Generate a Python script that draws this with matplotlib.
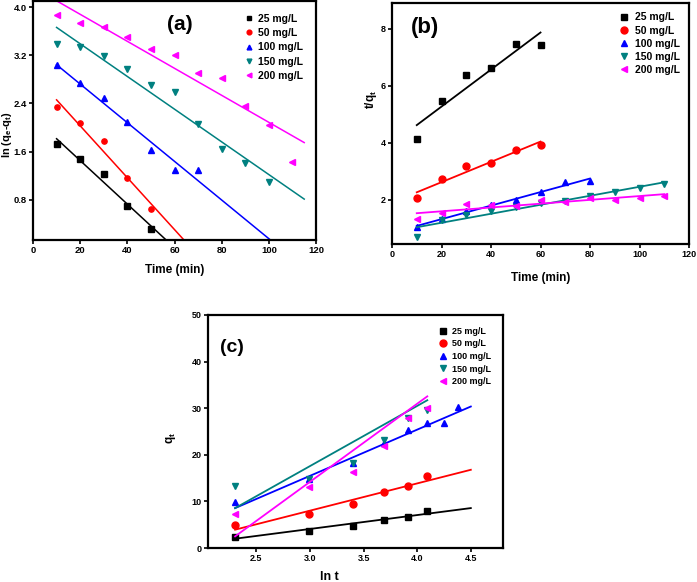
import numpy as np
import matplotlib
matplotlib.use("Agg")
import matplotlib.pyplot as plt

plt.rcParams["font.family"] = ["Liberation Sans", "DejaVu Sans"]
plt.rcParams["font.weight"] = "bold"
plt.rcParams["axes.labelweight"] = "bold"

labels = ["25 mg/L", "50 mg/L", "100 mg/L", "150 mg/L", "200 mg/L"]
colors = ["#000000", "#ff0000", "#0000ff", "#008080", "#ff00ff"]
markers = ["s", "o", "^", "v", "<"]

# (a) pseudo-first-order: ln(qe-qt) vs time
t_a = [
    [10, 20, 30, 40, 50],
    [10, 20, 30, 40, 50],
    [10, 20, 30, 40, 50, 60, 70],
    [10, 20, 30, 40, 50, 60, 70, 80, 90, 100],
    [10, 20, 30, 40, 50, 60, 70, 80, 90, 100, 110],
]
y_a = [
    [1.73, 1.48, 1.22, 0.70, 0.31],
    [2.34, 2.07, 1.77, 1.16, 0.64],
    [3.03, 2.74, 2.49, 2.09, 1.62, 1.29, 1.29],
    [3.39, 3.34, 3.19, 2.97, 2.71, 2.59, 2.06, 1.64, 1.41, 1.09],
    [3.86, 3.73, 3.66, 3.51, 3.30, 3.21, 2.90, 2.82, 2.35, 2.04, 1.42],
]

# (b) pseudo-second-order: t/qt vs time
t_b = [
    [10, 20, 30, 40, 50, 60],
    [10, 20, 30, 40, 50, 60],
    [10, 20, 30, 40, 50, 60, 70, 80],
    [10, 20, 30, 40, 50, 60, 70, 80, 90, 100, 110],
    [10, 20, 30, 40, 50, 60, 70, 80, 90, 100, 110],
]
y_b = [
    [4.12, 5.47, 6.37, 6.61, 7.45, 7.43],
    [2.06, 2.72, 3.19, 3.28, 3.74, 3.92],
    [1.04, 1.33, 1.60, 1.80, 2.01, 2.27, 2.62, 2.65],
    [0.70, 1.30, 1.48, 1.62, 1.74, 1.90, 1.97, 2.13, 2.27, 2.43, 2.54],
    [1.33, 1.54, 1.84, 1.81, 1.78, 1.99, 1.92, 2.07, 2.01, 2.06, 2.15],
]

# (c) intraparticle diffusion: qt vs ln t
t_c = [
    [10, 20, 30, 40, 50, 60],
    [10, 20, 30, 40, 50, 60],
    [10, 20, 30, 40, 50, 60, 70, 80],
    [10, 20, 30, 40, 50, 60],
    [10, 20, 30, 40, 50, 60],
]
y_c = [
    [2.4, 3.75, 4.65, 6.0, 6.65, 7.95],
    [4.86, 7.36, 9.43, 12.07, 13.36, 15.36],
    [9.8, 14.8, 18.3, 22.5, 25.4, 26.8, 26.8, 30.2],
    [13.2, 14.8, 18.3, 23.2, 28.0, 29.6],
    [7.2, 13.0, 16.3, 21.8, 27.9, 30.1],
]
# fitted lines of panel (c)
slope_c = [2.99, 5.85, 9.92, 12.92, 16.77]
icept_c = [-4.89, -9.54, -14.28, -21.19, -36.12]
xend_c = [4.5, 4.5, 4.5, np.log(60), np.log(60)]


def style_axes(ax, fs):
    for s in ax.spines.values():
        s.set_linewidth(1.6)
    ax.tick_params(direction="out", length=3, width=1.2, labelsize=fs, pad=1.5)
    for lab in ax.get_xticklabels() + ax.get_yticklabels():
        lab.set_fontweight("bold")


fig = plt.figure(figsize=(6.97, 5.82), dpi=100)
ax_a = fig.add_axes([33 / 697, 1 - 240 / 582, 283 / 697, 239 / 582])
ax_b = fig.add_axes([392 / 697, 1 - 244 / 582, 297 / 697, 241 / 582])
ax_c = fig.add_axes([208 / 697, 1 - 548 / 582, 295 / 697, 233 / 582])

# panel (a)
for i in range(5):
    x = np.array(t_a[i])
    y = np.array(y_a[i])
    ax_a.plot(x, y, linestyle="none", marker=markers[i], color=colors[i], ms=3.8, label=labels[i])
    m, b = np.polyfit(x, y, 1)
    xx = np.array([10, 115])
    ax_a.plot(xx, m * xx + b, color=colors[i], lw=1.1)
ax_a.set_xlim(0, 120)
ax_a.set_ylim(0.13, 4.1)
ax_a.set_xticks([0, 20, 40, 60, 80, 100, 120])
ax_a.set_yticks([0.8, 1.6, 2.4, 3.2, 4.0])
ax_a.set_xlabel("Time (min)", fontsize=8.5, labelpad=6)
ax_a.set_ylabel(r"ln (q$_\mathregular{e}$-q$_\mathregular{t}$)", fontsize=8)
ax_a.yaxis.set_label_coords(-0.068, 0.44)
ax_a.text(0.52, 0.9, "(a)", transform=ax_a.transAxes, fontsize=15, fontweight="bold",
          ha="center", va="center")
ax_a.legend(loc="upper right", frameon=False, prop={"size": 7.5, "weight": "bold"},
            handletextpad=0.35, labelspacing=0.42, borderaxespad=0.8, handlelength=1.2,
            markerscale=0.9)
style_axes(ax_a, 6.8)

# panel (b)
for i in range(5):
    x = np.array(t_b[i])
    y = np.array(y_b[i])
    ax_b.plot(x, y, linestyle="none", marker=markers[i], color=colors[i], ms=5, label=labels[i])
    m, b = np.polyfit(x, y, 1)
    xx = np.array([x[0], x[-1]])
    ax_b.plot(xx, m * xx + b, color=colors[i], lw=1.3)
ax_b.set_xlim(0, 120)
ax_b.set_ylim(0.45, 8.9)
ax_b.set_xticks([0, 20, 40, 60, 80, 100, 120])
ax_b.set_yticks([2, 4, 6, 8])
ax_b.set_xlabel("Time (min)", fontsize=8.5, labelpad=9)
ax_b.set_ylabel(r"t/q$_\mathregular{t}$", fontsize=8.5)
ax_b.yaxis.set_label_coords(-0.044, 0.6)
ax_b.text(0.11, 0.9, "(b)", transform=ax_b.transAxes, fontsize=16, fontweight="bold",
          ha="center", va="center")
ax_b.legend(loc="upper right", frameon=False, prop={"size": 7.5, "weight": "bold"},
            handletextpad=0.5, labelspacing=0.3, borderaxespad=0.5, handlelength=1.0)
style_axes(ax_b, 6.5)

# panel (c)
for i in range(5):
    x = np.log(np.array(t_c[i]))
    y = np.array(y_c[i])
    ax_c.plot(x, y, linestyle="none", marker=markers[i], color=colors[i], ms=5, label=labels[i])
    xx = np.array([x[0], xend_c[i]])
    ax_c.plot(xx, slope_c[i] * xx + icept_c[i], color=colors[i], lw=1.3)
ax_c.set_xlim(2.05, 4.8)
ax_c.set_ylim(0, 50)
ax_c.set_xticks([2.5, 3.0, 3.5, 4.0, 4.5])
ax_c.set_xticklabels(["2.5", "3.0", "3.5", "4.0", "4.5"])
ax_c.set_yticks([0, 10, 20, 30, 40, 50])
ax_c.set_xlabel("ln t", fontsize=9, labelpad=6)
ax_c.xaxis.set_label_coords(0.41, -0.1)
ax_c.set_ylabel(r"q$_\mathregular{t}$", fontsize=8.5)
ax_c.yaxis.set_label_coords(-0.1, 0.47)
ax_c.text(0.08, 0.86, "(c)", transform=ax_c.transAxes, fontsize=14, fontweight="bold",
          ha="center", va="center")
ax_c.legend(loc="upper right", frameon=False, prop={"size": 6.5, "weight": "bold"},
            handletextpad=0.5, labelspacing=0.4, borderaxespad=0.9, handlelength=1.0)
style_axes(ax_c, 6.5)

fig.savefig("out.png", dpi=100)
